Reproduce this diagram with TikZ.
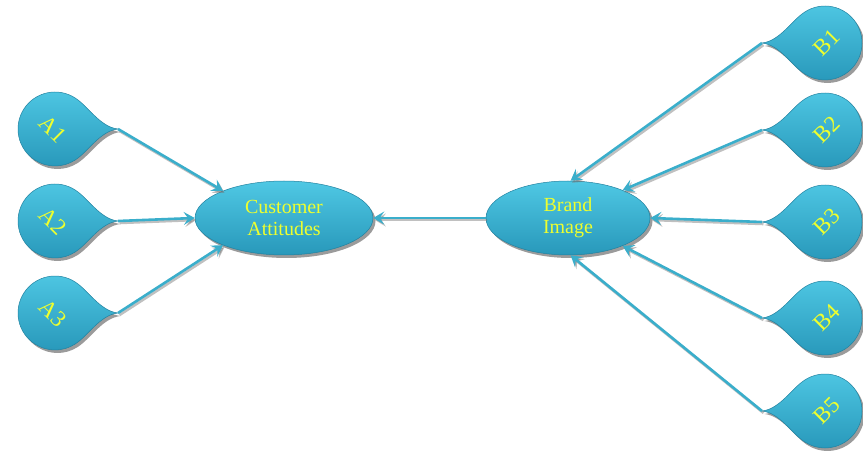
\documentclass[tikz,border=0pt]{standalone}
\usepackage{fontspec}
\setmainfont{Liberation Serif}
\usetikzlibrary{arrows.meta,shadows,shapes.geometric}

\definecolor{droptop}{HTML}{4FC8E4}
\definecolor{dropbot}{HTML}{2898BA}
\definecolor{dropedge}{HTML}{2282A0}
\definecolor{labelc}{HTML}{EEFF2E}
\definecolor{arrowc}{HTML}{3AAECB}

\tikzset{
  bodyfill/.style={draw=dropedge, line width=0.5pt,
    top color=droptop, bottom color=dropbot,
    drop shadow={shadow xshift=2.5pt, shadow yshift=-3pt, fill=black!65, opacity=0.6}},
  labeltext/.style={text=labelc, inner sep=0pt},
  hub/.style={ellipse, bodyfill, minimum height=74pt, inner sep=0pt,
    labeltext, font=\fontsize{20}{22}\selectfont, align=center},
  droplabel/.style={labeltext, font=\fontsize{23}{25}\selectfont},
  link/.style={arrowc, line width=2.6pt,
    -{Stealth[length=11pt, width=13pt, inset=4.5pt]},
    preaction={draw=black!55, opacity=0.45, line width=2.6pt,
      transform canvas={shift={(1.5pt,-2pt)}}}},
  % teardrop with its point to the right
  pics/dropright/.style={code={
    \path[bodyfill] (63pt,0) .. controls (45pt,2pt) and (33.6pt,22.4pt) .. (57:37pt)
      arc[start angle=57, end angle=303, radius=37pt]
      .. controls (33.6pt,-22.4pt) and (45pt,-2pt) .. (63pt,0) -- cycle;
    \coordinate (-tip) at (63pt,0);
    \node[droplabel, rotate=-45] (-lbl) at (-2pt,0) {#1};
  }},
  % teardrop with its point to the left
  pics/dropleft/.style={code={
    \path[bodyfill] (-63pt,0) .. controls (-45pt,2pt) and (-33.6pt,22.4pt) .. (123:37pt)
      arc[start angle=123, end angle=-123, radius=37pt]
      .. controls (-33.6pt,-22.4pt) and (-45pt,-2pt) .. (-63pt,0) -- cycle;
    \coordinate (-tip) at (-63pt,0);
    \node[droplabel, rotate=45] (-lbl) at (2pt,0) {#1};
  }},
}

\begin{document}
\begin{tikzpicture}[x=1pt, y=1pt]
  \useasboundingbox (0,0) rectangle (863,453);

  % central constructs
  \node[hub, minimum width=178pt] (ca) at (284,235) {Customer\\Attitudes};
  \node[hub, minimum width=164pt] (bi) at (568,235) {Brand\\Image};

  % indicators
  \pic (a1) at (55,324) {dropright={A1}};
  \pic (a2) at (55,232) {dropright={A2}};
  \pic (a3) at (55,140) {dropright={A3}};

  \pic (b1) at (825,410) {dropleft={B1}};
  \pic (b2) at (825,323) {dropleft={B2}};
  \pic (b3) at (825,231) {dropleft={B3}};
  \pic (b4) at (825,135) {dropleft={B4}};
  \pic (b5) at (825,42)  {dropleft={B5}};

  % paths
  \draw[link] (a1-tip) -- (ca.156);
  \draw[link] (a2-tip) -- (ca.west);
  \draw[link] (a3-tip) -- (ca.204);

  \draw[link] (bi.west) -- (ca.east);

  \draw[link] (b1-tip) -- (bi.86);
  \draw[link] (b2-tip) -- (bi.27);
  \draw[link] (b3-tip) -- (bi.east);
  \draw[link] (b4-tip) -- (bi.-27);
  \draw[link] (b5-tip) -- (bi.-86);
\end{tikzpicture}
\end{document}
